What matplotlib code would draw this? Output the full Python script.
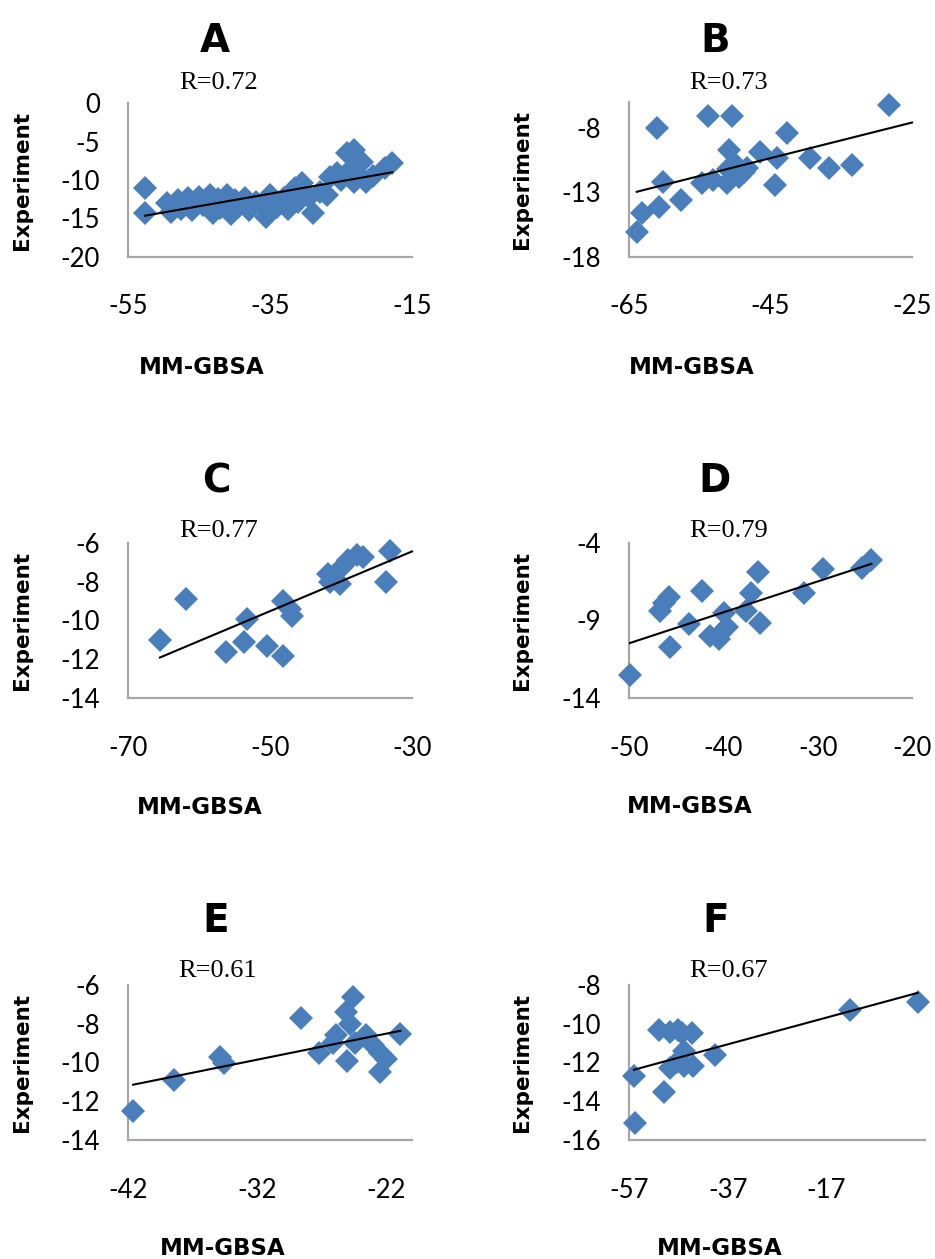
import numpy as np
import matplotlib
matplotlib.use("Agg")
import matplotlib.pyplot as plt

plt.rcParams['axes.unicode_minus'] = False

# panel A
a_x = [-52.6, -52.6, -49.5, -49.0, -48.0, -47.5, -46.5, -46.0, -45.0, -44.5,
       -43.5, -43.0, -42.3, -42.0, -41.0, -40.5, -40.0, -39.5, -38.5, -38.0,
       -37.0, -36.0, -35.5, -35.0, -34.0, -33.0, -32.5, -31.5, -31.0, -30.5,
       -29.5, -29.0, -28.0, -27.0, -26.5, -25.5, -25.0, -24.2, -23.2, -23.5,
       -23.2, -22.5, -22.0, -21.5, -20.5, -18.8, -17.8]
a_y = [-11.1, -14.3, -13.0, -14.2, -12.6, -13.8, -12.4, -13.9, -12.2, -13.2,
       -12.0, -14.3, -12.5, -13.6, -12.0, -14.4, -12.6, -13.5, -12.3, -13.9,
       -12.8, -13.2, -14.8, -12.0, -13.5, -12.4, -13.8, -11.0, -12.9, -10.4,
       -12.2, -14.3, -11.5, -12.0, -9.6, -9.1, -10.0, -6.5, -6.1, -8.5,
       -10.3, -9.5, -7.7, -10.3, -9.5, -8.5, -7.8]

# panel B
b_x = [-28.2, -61.0, -53.9, -50.4, -42.7, -50.9, -46.5, -44.1, -39.4, -36.7,
       -33.5, -44.3, -60.2, -57.6, -60.8, -63.1, -63.9, -54.7, -53.1, -51.2,
       -51.0, -49.4, -48.8, -48.3, -49.9]
b_y = [-6.2, -8.0, -7.1, -7.1, -8.4, -9.7, -9.9, -10.3, -10.3, -11.1,
       -10.9, -12.4, -12.2, -13.6, -14.1, -14.6, -16.1, -12.3, -12.0, -12.3,
       -11.2, -11.8, -11.4, -11.1, -10.9]

# panel C
c_x = [-65.5, -61.8, -56.2, -53.6, -53.3, -50.4, -48.2, -48.2, -47.2, -46.9,
       -41.8, -41.6, -40.2, -39.7, -39.0, -37.8, -36.9, -33.1, -33.6]
c_y = [-11.0, -8.9, -11.6, -11.1, -9.9, -11.3, -11.85, -9.0, -9.4, -9.75,
       -7.6, -8.0, -8.1, -7.2, -6.9, -6.6, -6.7, -6.4, -8.0]

# panel D
d_x = [-49.9, -46.7, -46.3, -45.8, -45.7, -43.6, -42.3, -41.4, -40.5, -40.3,
       -39.9, -39.6, -37.6, -37.1, -36.3, -36.1, -31.5, -29.4, -25.3, -24.3]
d_y = [-12.5, -8.4, -7.9, -7.5, -10.7, -9.2, -7.1, -10.0, -10.2, -9.8,
       -8.5, -9.4, -8.4, -7.2, -5.9, -9.15, -7.2, -5.7, -5.6, -5.1]

# panel E
e_x = [-41.6, -38.4, -34.9, -34.6, -28.6, -27.2, -25.9, -26.1, -25.1, -24.8,
       -24.6, -25.0, -24.4, -23.6, -23.0, -22.5, -22.0, -22.5, -20.9]
e_y = [-12.5, -10.9, -9.7, -10.0, -7.7, -9.5, -8.6, -9.0, -7.4, -8.0,
       -6.6, -9.9, -9.0, -8.6, -9.1, -9.5, -9.8, -10.5, -8.55]

# panel F
f_x = [-56.0, -55.8, -50.9, -49.9, -48.7, -48.6, -47.0, -47.3, -46.3, -45.9,
       -45.9, -44.3, -44.0, -39.5, -12.3, 1.5]
f_y = [-12.7, -15.1, -10.3, -13.5, -10.4, -12.3, -10.3, -11.95, -10.5, -11.4,
       -12.2, -10.5, -12.2, -11.6, -9.3, -8.9]

letters = ['A', 'B', 'C', 'D', 'E', 'F']
r_labels = ['R=0.72', 'R=0.73', 'R=0.77', 'R=0.79', 'R=0.61', 'R=0.67']
xs = [a_x, b_x, c_x, d_x, e_x, f_x]
ys = [a_y, b_y, c_y, d_y, e_y, f_y]
x_lims = [(-55, -15), (-65, -25), (-70, -30), (-50, -20), (-42, -20), (-57, 3)]
x_ticks = [[-55, -35, -15], [-65, -45, -25], [-70, -50, -30],
           [-50, -40, -30, -20], [-42, -32, -22], [-57, -37, -17]]
y_lims = [(-20, 0), (-18, -6), (-14, -6), (-14, -4), (-14, -6), (-16, -8)]
y_ticks = [[-20, -15, -10, -5, 0], [-18, -13, -8], [-14, -12, -10, -8, -6],
           [-14, -9, -4], [-14, -12, -10, -8, -6], [-16, -14, -12, -10, -8]]
# trend line drawn to the axis end for B and C
trend_to_axis = [False, True, True, False, False, False]

W, H = 935, 1259
fig = plt.figure(figsize=(W / 100, H / 100), dpi=100)

# pixel boxes of the plot areas (left, top, right, bottom)
boxes = [(128, 103, 412, 257), (629, 102, 912, 257),
         (128, 543, 412, 698), (629, 543, 912, 698),
         (128, 985, 412, 1140), (629, 985, 925, 1140)]
letter_pos = [(215, 52), (715, 52), (216, 492), (715, 492), (216, 932), (716, 932)]
r_pos = [(219, 89), (729, 89), (219, 537), (729, 537), (218, 977), (729, 977)]
xlab_pos = [(202, 374), (692, 374), (200, 814), (690, 813), (223, 1255), (720, 1255)]
ylab_x = [22, 522, 22, 522, 22, 522]

blue = '#4a7ebb'
axis_grey = '#a6a6a6'

for i in range(6):
    l, t, r, b = boxes[i]
    ax = fig.add_axes([l / W, 1 - b / H, (r - l) / W, (b - t) / H])
    x = np.array(xs[i])
    y = np.array(ys[i])
    ax.plot(x, y, linestyle='none', marker='D', ms=12.5, color=blue,
            markeredgewidth=0, clip_on=False, zorder=3)
    k, c0 = np.polyfit(x, y, 1)
    x_end = x_lims[i][1] if trend_to_axis[i] else x.max()
    xt = np.array([x.min(), x_end])
    ax.plot(xt, k * xt + c0, color='black', lw=1.5, zorder=4, clip_on=False)

    ax.set_xlim(*x_lims[i])
    ax.set_ylim(*y_lims[i])
    ax.set_xticks(x_ticks[i])
    ax.set_yticks(y_ticks[i])
    for s in ['top', 'right']:
        ax.spines[s].set_visible(False)
    for s in ['left', 'bottom']:
        ax.spines[s].set_color(axis_grey)
        ax.spines[s].set_linewidth(1.6)
    ax.tick_params(axis='x', length=0, pad=27, labelsize=18.5)
    ax.tick_params(axis='y', length=0, pad=20, labelsize=18.5)
    for lab in ax.get_xticklabels() + ax.get_yticklabels():
        lab.set_fontfamily('Lato')

    fig.text(letter_pos[i][0] / W, 1 - letter_pos[i][1] / H, letters[i],
             fontsize=28, fontweight='bold', ha='center', va='baseline')
    fig.text(r_pos[i][0] / W, 1 - r_pos[i][1] / H, r_labels[i],
             fontsize=19, family='Liberation Serif', ha='center', va='baseline')
    fig.text(xlab_pos[i][0] / W, 1 - xlab_pos[i][1] / H, 'MM-GBSA',
             fontsize=16.5, fontweight='bold', ha='center', va='baseline')
    fig.text(ylab_x[i] / W, 1 - ((t + b) / 2) / H, 'Experiment',
             fontsize=15.5, fontweight='bold', rotation=90,
             ha='center', va='center')

fig.savefig('out.png', dpi=100)
